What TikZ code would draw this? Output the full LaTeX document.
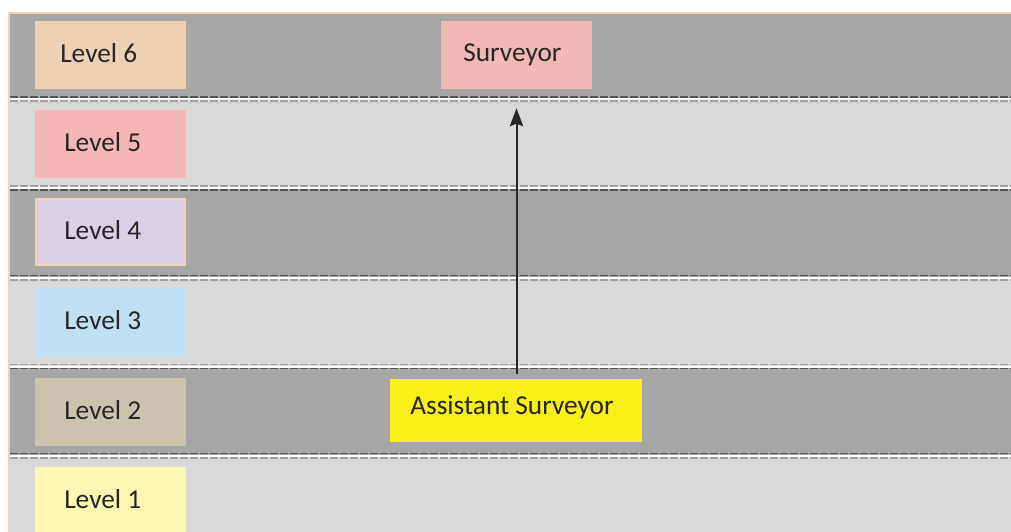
\documentclass[tikz,border=0pt]{standalone}
\usepackage{fontspec}
\setmainfont{Carlito}
\usetikzlibrary{arrows.meta}
\definecolor{darkband}{HTML}{A6A6A6}
\definecolor{lightband}{HTML}{D9D9D9}
\definecolor{darkdash}{HTML}{555555}
\definecolor{lightdash}{HTML}{A0A0A0}
\definecolor{peach}{HTML}{F2D2B4}
\definecolor{lsix}{HTML}{F0D0B2}
\definecolor{lfive}{HTML}{F4B6B6}
\definecolor{lfour}{HTML}{D9D0E5}
\definecolor{lthree}{HTML}{BEE0F2}
\definecolor{ltwo}{HTML}{CCC3AF}
\definecolor{lone}{HTML}{FBF6B2}
\definecolor{surv}{HTML}{F2B8B8}
\definecolor{asst}{HTML}{F8EE18}
\definecolor{txtc}{HTML}{262626}
\tikzset{
  lvlbox/.style={rectangle, draw=none, minimum width=113.25pt, minimum height=51pt, inner sep=0pt},
  lbl/.style={anchor=base west, inner sep=0pt, text=txtc, font=\fontsize{20.5pt}{24pt}\selectfont},
  ddash/.style={draw=darkdash, line width=1.2pt, dash pattern=on 6pt off 1.5pt},
  ldash/.style={draw=lightdash, line width=1.2pt, dash pattern=on 6pt off 1.5pt},
  conn/.style={draw=black!85, line width=1.5pt, -{Stealth[length=13.5pt,width=10pt,inset=2pt]}}
}
\begin{document}
\begin{tikzpicture}[x=0.75pt,y=-0.75pt]
\useasboundingbox (0,0) rectangle (1011,532);
\fill[white] (0,0) rectangle (1011,532);
\begin{scope}
\clip (0,0) rectangle (1011,532);
% outer peach frame
\fill[peach] (8,12) rectangle (1020,540);
% bands
\fill[darkband]  (10,14)  rectangle (1020,98);
\fill[white]     (10,98)  rectangle (1020,100);
\fill[lightband] (10,100) rectangle (1020,187);
\fill[white]     (10,187) rectangle (1020,189);
\fill[darkband]  (10,189) rectangle (1020,276.5);
\fill[white]     (10,276.5) rectangle (1020,278.5);
\fill[lightband] (10,278.5) rectangle (1020,365.5);
\fill[white]     (10,365.5) rectangle (1020,367.5);
\fill[darkband]  (10,367.5) rectangle (1020,454.5);
\fill[white]     (10,454.5) rectangle (1020,456.5);
\fill[lightband] (10,456.5) rectangle (1020,540);
% dashed separators
\draw[ddash] (10,97) -- (1020,97);
\draw[ldash] (10,101.2) -- (1020,101.2);
\draw[ldash] (10,185.8) -- (1020,185.8);
\draw[ddash] (10,190) -- (1020,190);
\draw[ddash] (10,275.5) -- (1020,275.5);
\draw[ldash] (10,279.7) -- (1020,279.7);
\draw[ldash] (10,364.3) -- (1020,364.3);
\draw[ddash] (10,368.5) -- (1020,368.5);
\draw[ddash] (10,453.5) -- (1020,453.5);
\draw[ldash] (10,457.7) -- (1020,457.7);
% level boxes
\node[lvlbox, fill=lsix]   (l6) at (110.5,55) {};
\node[lvlbox, fill=lfive]  (l5) at (110.5,144) {};
\node[lvlbox, fill=lfour, draw=peach, line width=1.5pt, minimum width=111.75pt, minimum height=49.5pt] (l4) at (110.5,231.5) {};
\node[lvlbox, fill=lthree] (l3) at (110.5,321.5) {};
\node[lvlbox, fill=ltwo]   (l2) at (110.5,412) {};
\node[lvlbox, fill=lone]   (l1) at (110.5,501) {};
\node[lbl] (t6) at (60,62) {Level 6};
\node[lbl] (t5) at (64,151.5) {Level 5};
\node[lbl] (t4) at (64,239) {Level 4};
\node[lbl] (t3) at (64,329) {Level 3};
\node[lbl] (t2) at (64,419.5) {Level 2};
\node[lbl] (t1) at (64,508.5) {Level 1};
% role boxes
\node[lvlbox, fill=surv] (sv) at (516.5,55) {};
\node[lbl] (svt) at (463,61.5) {Surveyor};
\node[lvlbox, fill=asst, minimum width=189pt, minimum height=47.25pt] (as) at (516,410.5) {};
\node[lbl] (ast) at (410,414) {Assistant Surveyor};
% connector
\draw[conn, shorten <=3.75pt, shorten >=14.25pt] (as.north -| sv.south) -- (sv.south);
\end{scope}
\end{tikzpicture}
\end{document}
